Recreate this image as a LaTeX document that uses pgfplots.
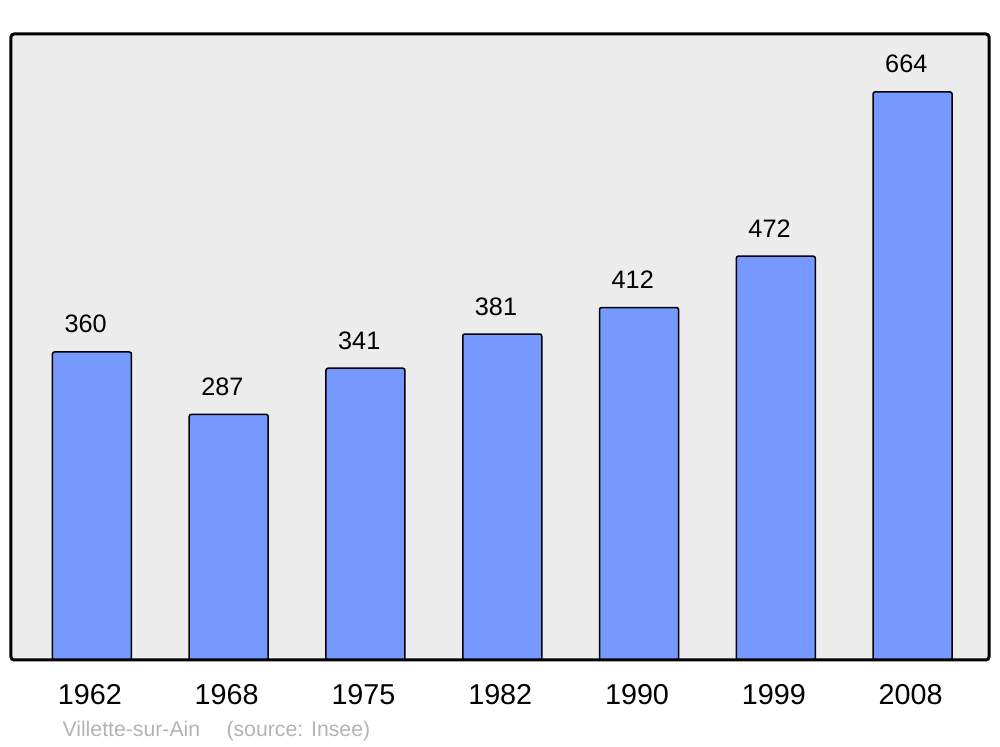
\documentclass[border=0pt]{standalone}
\usepackage{pgfplots}
\pgfplotsset{compat=1.18}
\usepackage{fontspec}
\setmainfont{Liberation Sans}
\definecolor{barblue}{HTML}{7599FF}
\definecolor{bggray}{HTML}{ECECEC}
\definecolor{footgray}{HTML}{B3B3B3}
\begin{document}
\begin{tikzpicture}
\useasboundingbox (-4.4pt,-34.8pt) rectangle (395.6pt,264pt);
\begin{axis}[
  at={(0pt,0pt)}, anchor=south west,
  scale only axis,
  width=391.2pt, height=250.4pt,
  xmin=-0.592, xmax=6.559,
  ymin=0, ymax=731.7,
  axis background/.style={fill=bggray, rounded corners=1.2pt},
  axis line style={draw=none},
  xtick={0,1,2,3,4,5,6},
  xticklabels={1962,1968,1975,1982,1990,1999,2008},
  ytick=\empty,
  major tick length=0pt,
  xticklabel style={anchor=base, inner sep=0pt, yshift=-18pt, xshift=-0.8pt, font=\fontsize{11.5}{13}\selectfont},
  /pgf/number format/assume math mode=true,
  ybar, bar width=31.6pt,
  nodes near coords,
  nodes near coords style={anchor=base, inner sep=0pt, yshift=7.6pt, xshift=-2.5pt, font=\fontsize{10.1}{12}\selectfont, text=black},
  clip=false,
]
\addplot[fill=barblue, draw=black, line width=0.6pt, rounded corners=0.8pt] coordinates {
  (0,360) (1,287) (2,341) (3,381) (4,412) (5,472) (6,664)
};
\draw[line width=1.2pt, rounded corners=1.2pt] (rel axis cs:0,0) rectangle (rel axis cs:1,1);
\end{axis}
\node[anchor=base west, inner sep=0pt, text=footgray, font=\fontsize{8.5}{10}\selectfont] at (20.4pt,-30.8pt) {Villette-sur-Ain};
\node[anchor=base west, inner sep=0pt, text=footgray, font=\fontsize{8.5}{10}\selectfont] at (86pt,-30.8pt) {(source: Insee)};
\end{tikzpicture}
\end{document}
